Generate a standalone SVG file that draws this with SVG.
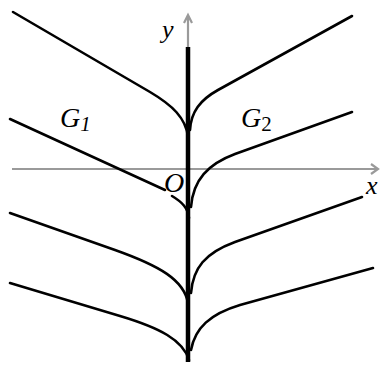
<svg xmlns="http://www.w3.org/2000/svg" width="385" height="367" viewBox="0 0 385 367">
<style>
.c{fill:none;stroke:#000;stroke-width:2.6;stroke-linecap:round;stroke-linejoin:round}
.ax{fill:none;stroke:#9a9a9a;stroke-width:2.2}
.t{font-family:"Liberation Serif","Times New Roman",serif;font-style:italic;fill:#000}
</style>
<rect width="385" height="367" fill="#fff"/>
<g id="axes">
<path class="ax" d="M12,169 H378 M371,164 L378,169 L371,174"/>
<path class="ax" d="M188,47 V15 M184,23 L188,15 L192,23" stroke-width="1.2"/>
<path d="M188,47 V362" stroke="#000" stroke-width="4.5" fill="none"/>
</g>
<g id="connectors">
<path class="c" d="M13,12 L150,92 C172,105 186,118 188,137"/>
<path class="c" d="M352,16 L218,90 C200,100 191,112 190,130"/>
<path class="c" d="M10,119 L165,190"/>
<path class="c" d="M172,196 C182,202 188,208 189,218"/>
<path class="c" d="M352,112 L235,154 C208,164 193,180 191,207"/>
<path class="c" d="M10,213 L115,250 C160,266 184,280 188,303"/>
<path class="c" d="M362,197 L235,242 C205,253 193,268 191,293"/>
<path class="c" d="M10,283 L120,316 C160,328 183,340 189,360"/>
<path class="c" d="M373,268 L240,305 C210,314 195,328 191,350"/>
</g>
<g id="labels">
<text class="t" x="162" y="38" font-size="26">y</text>
<text class="t" x="366" y="194" font-size="26">x</text>
<text class="t" x="164" y="192" font-size="28">O</text>
<text class="t" x="60" y="127" font-size="28">G<tspan font-size="21" dy="4">1</tspan></text>
<text class="t" x="241" y="127" font-size="28">G<tspan font-size="21" dy="4" font-style="normal">2</tspan></text>
</g>
</svg>
